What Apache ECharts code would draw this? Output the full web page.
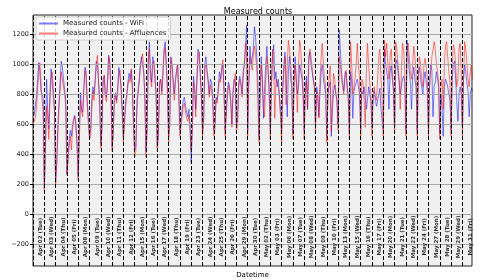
<!DOCTYPE html>
<html><head><meta charset="utf-8">
<script src="https://cdn.jsdelivr.net/npm/echarts@6/dist/echarts.min.js"></script>
<style>html,body{margin:0;padding:0;background:#fff}#c{width:480px;height:280px}</style>
</head><body><div id="c"></div>
<script>
const dayLabels = ["Apr 02 (Tue)","Apr 03 (Wed)","Apr 04 (Thu)","Apr 05 (Fri)","Apr 08 (Mon)","Apr 09 (Tue)","Apr 10 (Wed)","Apr 11 (Thu)","Apr 12 (Fri)","Apr 15 (Mon)","Apr 16 (Tue)","Apr 17 (Wed)","Apr 18 (Thu)","Apr 19 (Fri)","Apr 23 (Tue)","Apr 24 (Wed)","Apr 25 (Thu)","Apr 26 (Fri)","Apr 29 (Mon)","Apr 30 (Tue)","May 02 (Thu)","May 03 (Fri)","May 06 (Mon)","May 07 (Tue)","May 08 (Wed)","May 09 (Thu)","May 10 (Fri)","May 13 (Mon)","May 15 (Wed)","May 16 (Thu)","May 17 (Fri)","May 20 (Mon)","May 21 (Tue)","May 22 (Wed)","May 24 (Fri)","May 27 (Mon)","May 28 (Tue)","May 29 (Wed)","May 31 (Fri)"];
const samplesPerDay = 10;
const yTicks = [-200, 0, 200, 400, 600, 800, 1000, 1200];
const wifi = [
680,660,720,780,880,1010,960,820,800,780,
180,450,900,700,570,800,970,960,790,700,
210,350,600,750,880,1020,980,900,830,760,
270,380,500,560,520,600,640,660,600,480,
250,550,810,700,680,850,980,950,750,650,
520,560,760,850,800,900,1020,1000,880,760,
470,600,900,920,800,780,900,1060,1000,800,
450,560,780,810,760,850,980,970,850,700,
520,520,760,800,880,940,900,960,850,600,
430,450,760,830,900,1000,1050,1060,940,800,
420,600,1000,1150,950,880,1050,1000,900,800,
450,560,880,900,820,950,1100,1150,1000,850,
520,620,1050,1000,900,800,900,960,1000,820,
560,560,700,760,780,720,680,650,700,600,
340,600,920,850,700,900,1100,1080,950,800,
560,640,1000,1050,960,900,800,900,880,800,
560,600,780,760,850,950,900,960,1000,850,
560,560,820,880,850,760,600,820,900,880,
600,620,880,920,880,800,950,1000,1100,1260,
560,900,1120,1000,990,1100,1250,1180,1050,900,
520,800,1050,900,640,850,1000,1120,950,850,
560,850,1050,1130,900,950,850,900,800,700,
560,850,1000,1080,900,650,950,1050,900,850,
540,900,1050,900,800,850,1000,950,900,800,
560,850,920,700,1050,1080,1000,950,900,850,
600,850,800,650,820,950,1000,900,850,800,
520,800,850,880,520,700,820,860,800,760,
600,1230,1100,950,880,820,900,950,850,780,
540,950,900,640,820,850,880,900,850,800,
560,820,800,850,780,700,760,850,800,760,
580,780,820,760,720,760,800,840,700,620,
560,1100,1000,950,900,700,950,990,900,820,
580,1000,1030,950,880,800,850,900,920,880,
560,1160,1050,950,880,700,920,980,900,850,
560,950,980,900,850,800,900,950,880,820,
560,900,1000,960,650,850,880,950,900,850,
540,800,700,520,850,900,880,850,800,760,
560,900,1000,1020,900,760,620,800,850,800,
580,900,1000,950,880,820,650,800,840,820
];
const affluences = [
600,590,640,700,820,960,1010,900,760,700,
160,400,720,650,500,750,900,950,850,680,
200,330,520,700,820,950,960,850,800,720,
260,350,450,520,430,560,620,650,580,450,
230,500,760,680,650,820,960,920,720,600,
500,520,700,820,760,880,980,1060,900,720,
440,560,860,930,780,750,880,1050,1020,780,
420,520,750,790,740,820,940,960,830,650,
480,480,720,780,860,900,880,970,820,560,
380,420,700,800,880,980,1030,1070,960,760,
380,560,1050,1100,900,850,1000,1020,920,780,
420,520,860,900,800,920,1080,1110,980,800,
480,580,1040,980,880,760,870,940,1000,800,
520,520,650,720,740,680,640,620,660,560,
420,560,880,820,650,860,1050,1080,930,780,
520,600,960,1000,940,880,780,860,860,780,
520,560,760,740,820,900,880,980,1030,820,
520,520,780,860,820,740,580,800,880,940,
560,580,840,900,860,780,920,990,1140,1100,
520,860,1050,1000,960,1060,1120,1060,980,760,
480,820,1000,880,700,650,900,1050,980,780,
500,900,1100,1000,640,900,880,850,780,650,
480,800,950,1050,730,1000,1160,1100,1000,900,
500,850,1000,880,680,1000,1160,1100,950,850,
500,800,880,700,1000,1100,1050,980,900,850,
560,820,780,640,900,1050,1140,1000,900,860,
480,760,900,990,550,760,940,900,820,750,
560,1050,1000,900,850,800,940,960,860,760,
500,1150,1000,800,850,900,1000,1140,1000,900,
520,900,880,760,580,950,1140,1000,880,800,
520,800,850,780,760,900,1050,1100,900,760,
520,1160,1050,1140,1000,900,1050,1100,950,850,
540,1150,1100,1000,900,700,950,1140,1100,950,
520,1100,1140,1050,950,900,1000,1120,1050,950,
520,900,1050,1000,900,850,1000,1040,980,900,
520,850,950,1050,1100,1150,1100,1000,950,880,
500,850,900,700,1000,1120,1150,1050,950,880,
520,1000,1130,1100,1000,850,900,1100,1140,950,
520,900,1150,1100,1000,900,850,950,1000,900
];

const toXY = arr => arr.map((v, k) => [Math.floor(k / samplesPerDay) + (k % samplesPerDay) / samplesPerDay, v]);
const xMax = dayLabels.length - 1 + (samplesPerDay - 1) / samplesPerDay - 0.05;
const FONT = 'DejaVu Sans';
const gridLines = yTicks.map(v => [{coord: [0, v]}, {coord: [xMax, v]}]);
const dayLines = dayLabels.map((_, d) => ({xAxis: d}));
const chart = echarts.init(document.getElementById('c'), null, {renderer: 'canvas'});
chart.setOption({
  animation: false,
  textStyle: {fontFamily: FONT},
  title: {text: 'Measured counts', left: 253, top: 3, textAlign: 'center',
    textStyle: {fontSize: 8, fontWeight: 'normal', color: '#000', fontFamily: FONT}},
  legend: {
    z: 50,
    orient: 'vertical', left: 36, top: 17, padding: [3, 4, 3, 3], itemGap: 3,
    itemWidth: 19, itemHeight: 2, icon: 'rect',
    backgroundColor: 'rgba(255,255,255,0.85)', borderColor: '#cccccc', borderWidth: 1, borderRadius: 2,
    textStyle: {fontSize: 7, color: '#222', fontFamily: FONT},
    data: ['Measured counts - WiFi', 'Measured counts - Affluences']
  },
  grid: {left: 33, right: 8, top: 15, bottom: 14, containLabel: false, outerBoundsMode: 'none',
    show: true, backgroundColor: '#f0f0f0', borderColor: '#222', borderWidth: 1},
  xAxis: {type: 'value', min: 0, max: xMax, name: 'Datetime', nameLocation: 'middle', nameGap: 6,
    nameTextStyle: {fontSize: 7, color: '#000', fontFamily: FONT},
    axisLine: {show: false}, axisTick: {show: false}, axisLabel: {show: false}, splitLine: {show: false}},
  yAxis: {type: 'value', min: -344, max: 1328, name: 'Counts', nameLocation: 'middle', nameGap: 24,
    nameTextStyle: {fontSize: 7, color: '#000', fontFamily: FONT},
    axisLine: {show: false},
    axisTick: {show: true, length: 3, customValues: yTicks, lineStyle: {color: '#000'}},
    axisLabel: {fontSize: 6.5, color: '#222', margin: 4, customValues: yTicks,
      formatter: v => String(v).replace('-', '\u2212')},
    splitLine: {show: false}},
  series: [
    {type: 'line', data: [], z: 2, silent: true,
      markLine: {silent: true, symbol: 'none', label: {show: false}, animation: false,
        lineStyle: {type: 'solid', color: '#a8a8a8', width: 1},
        data: gridLines}},
    {name: 'Measured counts - WiFi', type: 'line', data: toXY(wifi), showSymbol: false, z: 3,
      lineStyle: {color: '#0000ff', width: 1, opacity: 0.5}, itemStyle: {color: 'rgba(0,0,255,0.5)'}},
    {name: 'Measured counts - Affluences', type: 'line', data: toXY(affluences), showSymbol: false, z: 4,
      lineStyle: {color: '#ff0000', width: 1, opacity: 0.5}, itemStyle: {color: 'rgba(255,0,0,0.5)'}},
    {type: 'line', data: [], z: 5, silent: true,
      markLine: {silent: true, symbol: 'none', label: {show: false}, animation: false,
        lineStyle: {type: [4, 2], color: '#000', width: 1},
        data: dayLines}},
    {type: 'scatter', z: 6, silent: true, symbolSize: 0,
      data: dayLabels.map((t, d) => [d + 0.68, -150]),
      label: {show: true, position: 'inside', rotate: 90, align: 'center', verticalAlign: 'middle',
        fontSize: 5.5, fontWeight: 'bold', color: '#000', fontFamily: FONT,
        formatter: p => dayLabels[p.dataIndex]}}
  ]
});
</script></body></html>
